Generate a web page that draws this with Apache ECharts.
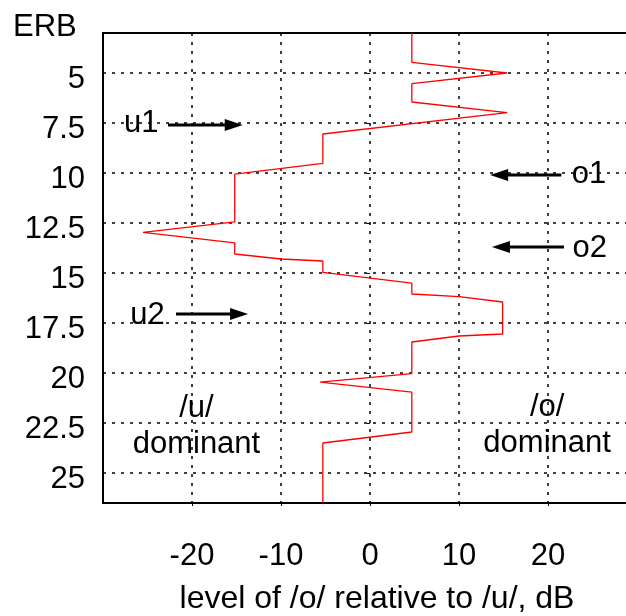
<!DOCTYPE html>
<html>
<head>
<meta charset="utf-8">
<script src="https://cdn.jsdelivr.net/npm/echarts@6/dist/echarts.min.js"></script>
<style>
  html, body { margin: 0; padding: 0; background: #fff; }
  #chart { width: 626px; height: 616px; }
</style>
</head>
<body>
<div id="chart"></div>
<script>
// ERB ticks shown on the vertical axis
const erbTicks = [5, 7.5, 10, 12.5, 15, 17.5, 20, 22.5, 25];

// Level profile: relative level (dB) at each ERB breakpoint
const profileLevel = [4.7, 4.7, 15.4, 4.7, 4.7, 15.4, -5.3, -5.3, -15.2, -15.2, -25.5, -15.2, -15.2, -10, -5.3, -5.3, 4.7, 4.7, 10, 14.9, 14.9, 10, 4.7, 4.7, -5.6, 4.7, 4.7, -5.3, -5.3];
const profileErb   = [3, 4.47, 5.0, 5.53, 6.45, 6.98, 8.05, 9.52, 10.06, 12.44, 12.97, 13.49, 14.05, 14.3, 14.4, 14.97, 15.51, 16.05, 16.18, 16.45, 18.05, 18.15, 18.45, 20.03, 20.46, 20.96, 22.95, 23.5, 26.5];

// Arrow annotations
const arrowNames = ['u1', 'u2', 'o1', 'o2'];
const arrowErb = [7.6, 17.05, 10.1, 13.7];
const arrowTail = [-22.7, -21.8, 21.5, 21.8];
const arrowTip = [-14.3, -13.7, 13.5, 13.7];
const arrowLabelLevel = [-25.7, -25.0, 24.6, 24.7];
const arrowLabelErb = [7.53, 17.14, 10.06, 13.75];

// Region captions
const regionText = ['/u/\ndominant', '/o/\ndominant'];
const regionLevel = [-19.5, 19.9];
const regionErb = [22.69, 22.62];

const FONT = '"Liberation Sans", Arial, Helvetica, sans-serif';
const FS = 31;
const gridDots = { color: '#000', type: [3, 6], width: 1.5 };

const chart = echarts.init(document.getElementById('chart'), null, { renderer: 'canvas' });

chart.setOption({
  animation: false,
  backgroundColor: '#fff',
  title: {
    text: 'ERB',
    left: 13, top: 12, padding: 0,
    textStyle: { fontFamily: FONT, fontSize: FS, fontWeight: 'normal', color: '#000' }
  },
  grid: {
    left: 103, right: -11, top: 33, bottom: 113,
    containLabel: false, outerBoundsMode: 'none',
    show: true, borderColor: '#000', borderWidth: 2, backgroundColor: 'transparent'
  },
  xAxis: {
    type: 'value',
    min: -30, max: 30, interval: 10,
    name: 'level of /o/ relative to /u/, dB',
    nameLocation: 'middle',
    nameGap: 80,
    nameTextStyle: { fontFamily: FONT, fontSize: 32, color: '#000', padding: [0, 0, 0, 14] },
    axisLine: { show: false },
    axisTick: { show: true, length: 3, lineStyle: { color: '#000', width: 1 } },
    axisLabel: {
      fontFamily: FONT, fontSize: FS, color: '#000', margin: 38,
      showMinLabel: false, showMaxLabel: false
    },
    splitLine: { show: true, lineStyle: gridDots }
  },
  yAxis: {
    type: 'value',
    inverse: true,
    min: 3, max: 26.5,
    axisLine: { show: false },
    axisTick: { show: true, length: 3, customValues: erbTicks, lineStyle: { color: '#000', width: 1 } },
    axisLabel: {
      fontFamily: FONT, fontSize: FS, color: '#000', margin: 18,
      customValues: erbTicks, verticalAlign: 'top', lineHeight: 12
    },
    splitLine: { show: true, lineStyle: gridDots }
  },
  series: [{
    type: 'line',
    data: profileLevel.map((v, i) => [v, profileErb[i]]),
    showSymbol: false,
    symbol: 'none',
    lineStyle: { color: '#ff0000', width: 1.3 },
    z: 3
  }]
});

// Annotations placed in data coordinates
function px(level, erb) {
  return chart.convertToPixel({ gridIndex: 0 }, [level, erb]);
}

const graphics = [];
arrowNames.forEach((name, i) => {
  const tail = px(arrowTail[i], arrowErb[i]);
  const tip = px(arrowTip[i], arrowErb[i]);
  const dir = tip[0] > tail[0] ? 1 : -1;
  const headLen = 18, headHalf = 6;
  graphics.push({
    type: 'line',
    shape: { x1: tail[0], y1: tail[1], x2: tip[0] - dir * headLen * 0.7, y2: tip[1] },
    style: { stroke: '#000', lineWidth: 3 },
    z: 10
  });
  graphics.push({
    type: 'polygon',
    shape: { points: [[tip[0], tip[1]], [tip[0] - dir * headLen, tip[1] - headHalf], [tip[0] - dir * headLen, tip[1] + headHalf]] },
    style: { fill: '#000' },
    z: 10
  });
  const lp = px(arrowLabelLevel[i], arrowLabelErb[i]);
  graphics.push({
    type: 'text',
    x: lp[0], y: lp[1],
    style: { text: name, fill: '#000', fontFamily: FONT, fontSize: FS, align: 'center', verticalAlign: 'middle' },
    z: 10
  });
});
regionText.forEach((t, i) => {
  const p = px(regionLevel[i], regionErb[i]);
  graphics.push({
    type: 'text',
    x: p[0], y: p[1],
    style: { text: t, fill: '#000', fontFamily: FONT, fontSize: FS, lineHeight: 36, align: 'center', verticalAlign: 'middle' },
    z: 10
  });
});
chart.setOption({ graphic: graphics });
</script>
</body>
</html>
